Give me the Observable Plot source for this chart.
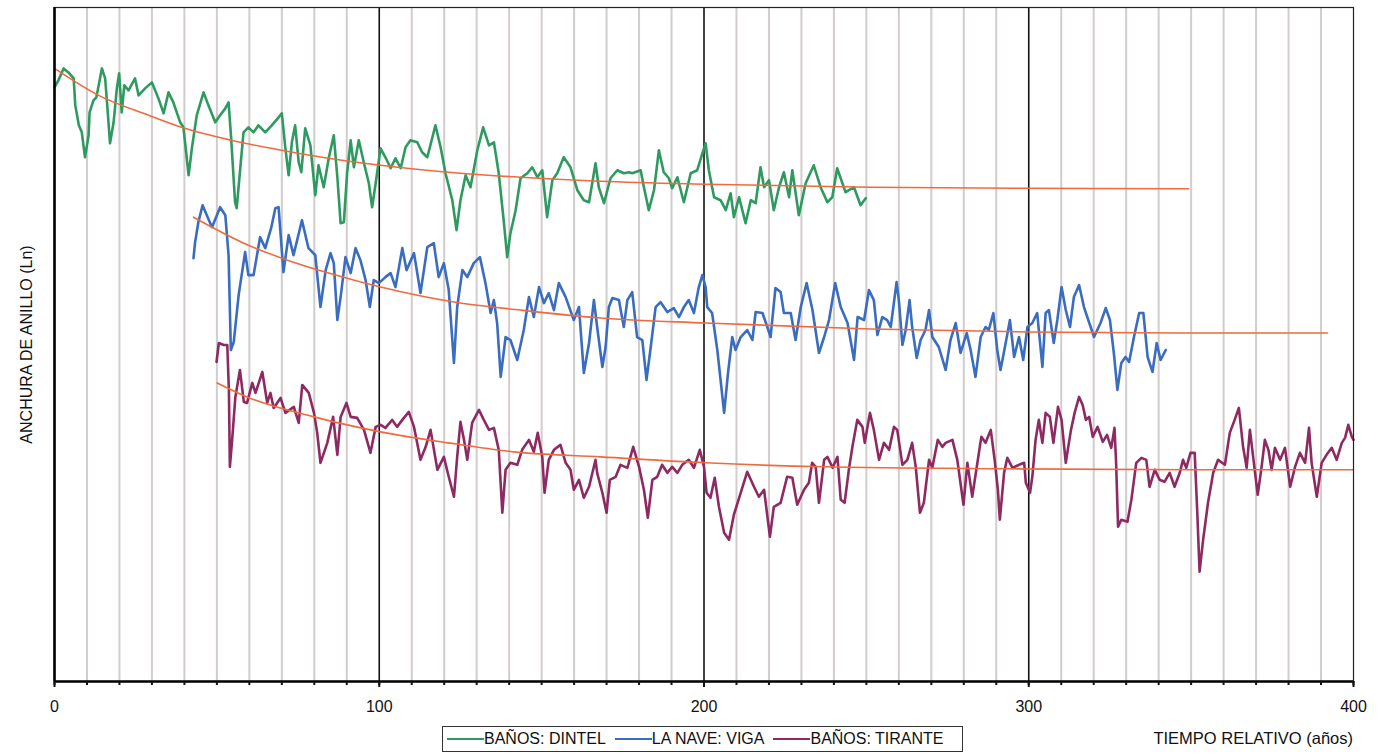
<!DOCTYPE html>
<html>
<head>
<meta charset="utf-8">
<script src="https://cdn.jsdelivr.net/npm/d3@7"></script>
<script src="https://cdn.jsdelivr.net/npm/@observablehq/plot@0.6"></script>
<style>
  body { margin: 0; background: #fff; font-family: "Liberation Sans", Arial, sans-serif; }
  #wrap { position: relative; width: 1389px; height: 754px; overflow: hidden; }
  #legend { position: absolute; left: 442px; top: 726px; width: 515px; height: 24px; border: 1.5px solid #333;
            display: flex; align-items: center; padding-left: 4px; font-size: 16px; color: #111; white-space: nowrap; }
  .item { display: flex; align-items: center; margin-right: 9px; }
  .sw { display: inline-block; width: 37px; height: 0; border-top: 2.5px solid; }
  #xlabel { position: absolute; right: 36px; top: 729px; font-size: 16.5px; color: #111; white-space: nowrap; }
</style>
</head>
<body>
<div id="wrap">
  <div id="chart"></div>
  <div id="legend"></div>
  <div id="xlabel"></div>
</div>
<script>
// ---------- DATA (arbitrary ring-width units) ----------
const seriesNames = ["BAÑOS: DINTEL", "LA NAVE: VIGA", "BAÑOS: TIRANTE"];
const seriesColors = ["#2f9a60", "#3a6cc0", "#8e2a62"];
const trendColor = "#ef6a3e";
const xTickLabels = [0, 100, 200, 300, 400];
const minorTickYears = [0,10,20,30,40,50,60,70,80,90,100,110,120,130,140,150,160,170,180,190,200,210,220,230,240,250,260,270,280,290,300,310,320,330,340,350,360,370,380,390,400];
const gridYears = [10,20,30,40,50,60,70,80,90,110,120,130,140,150,160,170,180,190,210,220,230,240,250,260,270,280,290,310,320,330,340,350,360,370,380,390];
const centuryYears = [100, 200, 300];
const xAxisLabel = "TIEMPO RELATIVO (años)";
const yAxisLabel = "ANCHURA DE ANILLO (Ln)";

const dintelYears = [0,1.2,2.8,4.3,5.9,6.4,7.5,8.4,9.4,10.5,10.8,12,12.9,14.6,15.6,16.4,17.1,18.2,19.2,19.9,20.7,21.5,22.8,24.8,25.9,27.9,30,32,33.6,35.1,36.6,38.7,39.7,41.3,42.3,43.8,45.9,47.4,49.5,51,52.6,53.6,54.4,55.6,56.1,57.2,58.2,59.7,61.3,62.8,64.9,66.9,69,70,71.1,72.1,73.1,74.1,75.2,76,77.2,78.8,80.3,81.3,82.9,84.5,86,87.1,88.1,89.1,90.1,91.2,92.2,93.7,95.3,96.8,97.8,98.9,100.4,101.9,103.5,105,106.6,108.1,109.6,111.7,113.2,114.8,117.3,118.9,120.4,122.5,123.8,125,126.6,128.1,130.2,132,133.8,135.3,136.8,138.4,139.4,140.4,142,143.5,145.6,147.1,148.7,150.2,151.7,153.3,154.8,156.8,158.9,161,163,164.6,166.6,167.6,169.2,171.2,173.3,175.3,176.9,177.9,180.5,181.5,183,184.6,186.1,187.6,189.2,190.2,191.8,193.8,195.9,197.9,199.5,200.5,201.5,203.1,205.1,206.7,208.2,209.2,210.8,212.8,214.4,215.9,217.4,218.5,220,221.5,223.1,224.6,226.2,227.2,229.2,231.3,233.8,235.9,238,239.5,241,243.6,246.2,248.2,249.8];
const dintelValues = [59.5,60.2,61.4,61.0,60.4,57.7,55.7,55.0,52.5,54.7,57.0,58.2,58.5,61.4,60.4,57.0,53.9,56.0,59.4,60.9,57.0,59.7,59.2,60.4,58.7,59.4,60.0,58.4,56.9,59.0,58.0,56.0,55.5,50.7,53.4,56.7,59.0,57.7,56.0,56.7,57.4,58.0,54.4,48.0,47.4,51.4,55.0,55.5,55.0,55.7,55.0,55.7,56.5,56.9,53.4,50.7,54.0,55.7,52.0,51.0,55.4,53.7,48.7,51.7,49.5,52.5,54.7,50.5,45.9,46.0,50.9,54.2,51.5,54.2,51.9,49.9,47.5,49.9,53.4,52.5,51.4,52.4,51.4,53.5,54.2,54.0,53.0,52.5,55.7,53.5,50.9,48.2,45.2,48.2,50.7,49.5,53.2,55.5,53.7,54.0,50.9,45.9,42.5,44.9,47.2,50.4,50.9,51.5,50.5,51.2,46.5,50.2,50.9,52.5,51.5,49.2,48.2,48.0,51.9,49.5,47.9,50.4,51.2,50.9,51.0,50.9,51.2,49.5,47.2,49.2,53.2,51.0,50.4,49.4,50.5,48.0,50.9,51.2,52.9,53.9,51.2,48.5,48.2,47.2,48.9,46.5,48.5,45.9,48.2,47.9,51.5,49.5,50.2,47.2,49.5,51.0,48.5,51.2,46.7,49.9,51.7,49.5,48.0,48.5,51.4,49.0,49.5,47.7,48.4];

const vigaYears = [42.8,43.3,44.3,45.6,46.9,48.5,51,52.6,53.6,54.3,55.2,56.7,58.7,59.7,61.3,63.3,64.9,66.7,68,69,70.5,72.1,73.6,76.2,78.2,80.3,81.9,83.5,85,86,87.1,88.1,89.6,91.2,92.7,94.2,95.8,97.1,98.3,99.9,101.9,103.5,105,107.1,108.4,110.7,112.7,114.8,116.8,118.3,119.9,121.4,123,124,125.6,127.1,129.1,131,132.7,134.3,135.3,136.3,137.4,138.9,140.4,142.5,144.5,146.1,147.6,149.2,150.7,152.2,153.8,155.3,157.4,159.9,161.5,163,164.6,166.1,167.1,168.7,169.7,170.7,171.8,173.8,175.3,176.4,177.9,179.4,181,182.3,183.6,185.1,186.6,188.7,190.7,192.3,193.8,195.3,196.9,198.4,199.5,200.5,201,202.5,204.1,205.1,206.2,207.4,208.7,209.7,211.3,213.3,214.9,215.9,218,219.5,220.5,222,223.6,224.6,226.7,228.2,229.8,231.6,233.4,235.4,237,238.5,240.4,242.1,244.2,246.2,247.3,249.3,250.8,252.3,253.4,254.9,256.4,257.5,259.3,260,261.1,262.1,263.3,264.1,265.5,266.7,268.2,269.3,270.3,272.3,274.4,275.9,277.5,279,280.9,282.1,283.6,285.2,286.7,287.7,289.1,290.3,291.3,292.9,294.2,295.5,297,298.3,299.6,301.1,302.6,304.2,305.2,306.2,307.7,308.8,310.1,311.4,312.7,313.9,315.5,317,320.1,322.1,323.7,325,326.2,327.3,328.5,329.8,330.9,332.4,334,335.3,336.6,338.1,339.4,340.6,342.2];
const vigaValues = [42.4,44.0,46.0,47.7,46.7,45.5,47.5,46.7,42.7,33.2,34.0,38.7,43.0,40.7,40.7,44.5,43.4,45.4,47.4,47.5,41.0,44.7,42.7,46.2,43.4,42.7,37.5,41.2,42.9,41.9,36.2,38.5,42.5,40.9,43.4,42.2,40.2,37.5,40.2,39.9,40.5,40.9,39.5,43.4,41.2,42.9,38.9,43.5,43.9,40.5,41.9,39.2,31.9,37.5,41.2,40.5,41.9,42.5,39.9,36.9,38.2,35.9,30.5,34.5,34.2,32.2,35.2,38.5,36.5,39.5,37.9,38.9,37.2,39.9,38.5,36.2,37.5,30.9,33.9,38.2,35.5,31.5,33.5,37.5,38.4,38.2,35.5,38.2,39.0,34.5,34.2,30.2,33.5,37.5,38.0,37.0,37.4,36.5,37.5,38.2,36.9,39.5,40.7,39.5,37.5,36.9,33.2,30.2,26.9,30.9,34.5,33.2,34.5,35.2,34.2,37.0,36.9,35.5,34.5,39.4,39.0,36.9,36.9,34.2,37.5,39.9,37.2,32.9,34.5,36.2,39.9,37.5,35.9,32.2,36.5,36.2,39.2,38.2,34.7,36.5,36.2,35.5,40.0,38.2,33.7,35.2,38.2,35.5,32.4,34.2,35.2,37.2,34.5,33.5,31.2,34.2,35.9,32.9,34.9,33.2,30.5,34.5,35.5,35.2,36.9,33.2,31.2,33.9,36.2,32.5,34.5,32.2,35.5,35.9,36.9,31.5,36.9,37.2,33.9,36.2,39.5,37.2,35.5,38.5,39.7,37.5,34.5,35.9,37.4,36.2,32.9,29.2,31.9,32.5,32.0,34.5,36.9,36.9,32.5,31.0,33.9,32.2,33.2];

const tiranteYears = [49.9,50.6,52.1,53.2,53.7,54,54.7,55.7,57.1,58.3,59.3,60.9,61.9,64,65.5,66.5,67.5,69.6,71.1,73.7,75.2,76.3,78.3,79.9,80.9,81.9,84,85.8,87.1,88.1,89.9,91.2,93.2,95.3,97.3,98.9,100.4,101.9,104,105.5,107.1,109.1,110.7,112.7,114.3,115.8,117.9,119.9,121.4,123,124,125,126.1,127.1,128.6,130.7,132.2,133.8,135.3,136.8,137.9,138.9,140.4,142.5,144,146.1,147.6,148.8,150.2,150.9,152.2,153.8,155.8,157.4,158.9,159.9,161.5,163,164.6,166.6,167.1,168.7,170,171,172.8,174.3,176.4,178.2,180,181.5,182.7,184.1,185.6,187.1,188.7,190.2,191.8,193.3,195.3,196.9,198.7,200,200.8,202,203.3,204.6,206.2,207.7,209.2,211.3,213.3,215.4,216.9,218.5,220.3,221.5,223.6,225.6,227.2,228.7,230.8,232.3,233.3,234.4,235.4,237,238,239.6,241.1,242.1,243.3,244.6,245.7,247.2,248.8,249.5,251.1,252.3,253.9,255.4,257,258.5,259.5,261.1,262.6,264.1,265.2,266.5,267.7,269.3,270.3,272,273.4,274.4,276.5,278,279.9,281.1,282.6,284,285.4,286.7,288.3,289.5,290.5,291.1,292.4,293.4,295,297,298.6,299.1,300.4,301.1,302.1,303.1,304.2,305.2,306.5,307.6,309,310.1,311.4,313,314.2,315.5,316.6,317.6,318.6,319.7,321.2,322.8,324.1,325.4,326.4,326.9,327.5,328.5,330.4,331.6,333.1,334.7,336.2,337.2,338.8,340.3,341.8,343.4,344.9,346.5,347.5,348.5,349.8,351.1,351.9,352.6,353.7,355.2,356.8,358.3,360.4,361.9,363.4,364.7,366,367.1,368.1,369.1,370.5,371.7,372.7,373.8,374.8,375.8,377.4,378.9,380.5,382,383.5,385.1,386.3,387.1,388.7,390.2,391.7,393.3,394.8,396.4,397.4,398.4,399.5,400];
const tiranteValues = [32.0,33.9,33.7,33.7,29.2,21.5,24.2,28.5,31.2,28.0,27.9,29.9,28.9,31.0,27.9,28.9,27.4,28.4,26.9,27.5,25.9,29.7,28.9,26.9,24.9,21.9,23.9,26.5,22.7,26.5,27.9,26.5,26.4,25.2,22.9,25.5,25.7,25.4,26.2,25.5,26.2,27.0,25.5,22.2,23.5,25.2,21.2,22.5,20.5,18.5,22.5,26.0,24.2,22.2,25.9,27.2,26.2,25.2,25.4,23.2,16.9,21.2,21.9,21.7,23.2,24.2,23.0,24.9,22.5,18.9,22.2,23.2,23.7,21.9,21.2,19.2,20.2,18.4,19.5,22.2,20.9,18.9,16.9,20.2,20.5,21.7,21.4,23.5,21.5,19.2,16.4,20.2,20.5,21.7,20.9,21.5,20.9,21.7,22.2,21.4,23.2,21.5,18.9,18.4,20.4,17.5,14.9,14.2,16.7,18.9,21.0,19.5,18.5,19.2,14.5,17.5,17.9,20.5,20.4,17.7,19.2,19.9,21.9,21.5,17.9,22.2,22.5,21.4,22.5,18.2,17.9,21.2,23.5,26.2,25.5,23.9,26.9,25.2,22.2,23.9,23.2,25.5,25.2,21.7,22.2,23.9,21.5,16.9,17.9,22.2,21.4,24.2,23.5,23.9,24.2,22.2,17.7,21.9,18.5,21.5,24.5,23.9,25.2,22.2,19.2,16.2,20.9,22.4,21.4,21.7,21.9,19.9,18.9,20.5,24.2,26.2,23.9,26.9,26.5,23.9,27.5,26.2,21.9,25.2,27.0,28.5,27.7,26.2,26.5,24.5,25.5,24.0,24.7,23.4,25.4,21.9,15.5,16.2,16.0,18.2,21.9,22.4,22.2,19.5,21.2,20.2,20.0,20.9,19.5,20.9,22.2,21.4,22.9,22.9,16.9,11.0,14.2,17.9,20.9,22.2,21.7,24.9,26.2,27.4,23.5,21.4,25.2,22.5,18.7,21.5,24.2,23.2,21.2,23.4,22.2,23.4,19.5,21.5,22.9,21.9,25.4,21.9,18.5,21.9,22.7,23.4,22.2,23.9,24.4,25.7,24.5,24.2];

// trend curves (orange-red)
const dintelTrendYears = [0,13.6,29,39.1,54.5,69.9,84.4,100.4,125,143.5,168.2,200.5,251.3,300,349.3];
const dintelTrendValues = [61.4,58.7,56.7,55.5,54.2,53.2,52.4,51.7,50.9,50.5,50.1,49.8,49.5,49.4,49.35];
const vigaTrendYears = [42.8,59.7,70,84.4,100.4,123,143.5,168.2,200.5,251.3,300,346.8,392];
const vigaTrendValues = [46.5,43.7,42.4,40.9,39.5,38.0,37.2,36.4,35.9,35.3,35.0,34.9,34.9];
const tiranteTrendYears = [50.1,59.3,79.9,100.4,121.2,141.3,168.2,200.5,237,293.4,350,400];
const tiranteTrendValues = [29.9,28.5,26.5,25.0,23.9,23.0,22.5,21.9,21.5,21.3,21.2,21.2];

// ---------- BUILD ----------
const seriesYears = [dintelYears, vigaYears, tiranteYears];
const seriesValues = [dintelValues, vigaValues, tiranteValues];
const trendYears = [dintelTrendYears, vigaTrendYears, tiranteTrendYears];
const trendValues = [dintelTrendValues, vigaTrendValues, tiranteTrendValues];

const seriesRows = seriesNames.map((name, s) =>
  seriesYears[s].map((year, i) => ({ serie: name, year, value: seriesValues[s][i] })));
const trendRows = seriesNames.flatMap((name, s) =>
  trendYears[s].map((year, i) => ({ serie: name, year, value: trendValues[s][i] })));

const chart = Plot.plot({
  width: 1389,
  height: 722,
  marginLeft: 54,
  marginRight: 36,
  marginTop: 7,
  marginBottom: 41,
  style: { fontFamily: "'Liberation Sans', Arial, sans-serif", fontSize: "16px", color: "#111", background: "#fff" },
  x: { domain: [0, 400] },
  y: { domain: [0, 67.5], axis: null },
  marks: [
    Plot.ruleX(gridYears, { stroke: "#d3cccc", strokeWidth: 2 }),
    Plot.ruleX(centuryYears, { stroke: "#111", strokeWidth: 1.6 }),
    ...seriesRows.map((rows, s) =>
      Plot.line(rows, { x: "year", y: "value", stroke: seriesColors[s], strokeWidth: 2.6, strokeLinejoin: "round" })),
    Plot.line(trendRows, { x: "year", y: "value", z: "serie", stroke: trendColor, strokeWidth: 1.6, curve: "monotone-x" }),
    Plot.frame({ stroke: "#222", strokeWidth: 1.2 }),
    Plot.ruleX([0], { stroke: "#000", strokeWidth: 2.6 }),
    Plot.ruleY([0], { stroke: "#000", strokeWidth: 2.6 }),
    Plot.axisX({ ticks: minorTickYears, tickSize: 4, tickFormat: () => "", strokeWidth: 2, label: null }),
    Plot.axisX({ ticks: xTickLabels, tickSize: 6, tickPadding: 13, strokeWidth: 2, fontSize: 16, label: null }),
    Plot.text([yAxisLabel], { frameAnchor: "left", textAnchor: "middle", rotate: -90, dx: -28, fontSize: 16, fill: "#111" })
  ]
});
document.getElementById("chart").appendChild(chart);

// legend
const legend = document.getElementById("legend");
seriesNames.forEach((name, s) => {
  const item = document.createElement("span");
  item.className = "item";
  const sw = document.createElement("span");
  sw.className = "sw";
  sw.style.borderTopColor = seriesColors[s];
  item.appendChild(sw);
  item.appendChild(document.createTextNode(name));
  legend.appendChild(item);
});
document.getElementById("xlabel").textContent = xAxisLabel;
</script>
</body>
</html>
